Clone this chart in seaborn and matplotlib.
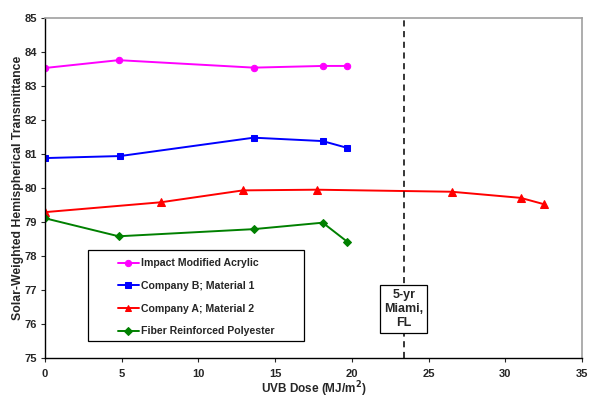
import numpy as np
import pandas as pd
import seaborn as sns
import matplotlib
matplotlib.use('Agg')
import matplotlib.pyplot as plt
from matplotlib.patches import Rectangle

# UVB dose (MJ/m2) and transmittance (%)
acrylic_x = [0, 4.8, 13.6, 18.1, 19.7]
acrylic_y = [83.53, 83.76, 83.54, 83.59, 83.59]

compB_x = [0, 4.9, 13.6, 18.1, 19.7]
compB_y = [80.88, 80.94, 81.48, 81.38, 81.18]

compA_x = [0, 7.55, 12.9, 17.7, 26.5, 31.0, 32.55]
compA_y = [79.29, 79.58, 79.93, 79.95, 79.89, 79.71, 79.52]

frp_x = [0, 4.8, 13.6, 18.1, 19.7]
frp_y = [79.11, 78.58, 78.79, 78.98, 78.42]

labels = ['Impact Modified Acrylic', 'Company B; Material 1',
          'Company A; Material 2', 'Fiber Reinforced Polyester']
colors = ['#FF00FF', '#0000FF', '#FF0000', '#008000']
markers = ['o', 's', '^', 'D']
msizes = [4.6, 4.8, 5.2, 4.0]

miami_dose = 23.38

sns.set_style('white')
plt.rcParams['font.family'] = ['Liberation Sans', 'DejaVu Sans']
plt.rcParams['font.weight'] = 'bold'

series = [(acrylic_x, acrylic_y), (compB_x, compB_y),
          (compA_x, compA_y), (frp_x, frp_y)]
frames = []
for (xs, ys), lab in zip(series, labels):
    frames.append(pd.DataFrame({'dose': xs, 'trans': ys, 'material': lab}))
df = pd.concat(frames, ignore_index=True)

fig = plt.figure(figsize=(5.91, 4.0), dpi=100)
ax = fig.add_axes([45/591, 1-358/400, 537/591, 340/400])

for lab, c, m, ms in zip(labels, colors, markers, msizes):
    sub = df[df['material'] == lab]
    sns.lineplot(data=sub, x='dose', y='trans', ax=ax, color=c, marker=m,
                 markersize=ms, markeredgecolor=c, linewidth=1.4,
                 label=lab, sort=False)

ax.axvline(miami_dose, color='black', linestyle=(0, (4, 3)), linewidth=1.1)
ax.text(miami_dose, 76.44, '5-yr\nMiami,\nFL', ha='center', va='center',
        fontsize=9, fontweight='bold', linespacing=1.2,
        bbox=dict(boxstyle='square,pad=0.3', facecolor='white',
                  edgecolor='black', linewidth=0.9))

ax.set_xlim(0, 35)
ax.set_ylim(75, 85)
ax.set_xticks(np.arange(0, 36, 5))
ax.set_yticks(np.arange(75, 86, 1))
ax.tick_params(axis='both', labelsize=8, length=3, width=0.8, direction='out',
               bottom=True, left=True, pad=3)
ax.tick_params(axis='x', pad=5)
for t in ax.get_xticklabels() + ax.get_yticklabels():
    t.set_fontweight('bold')

ax.set_xlabel('UVB Dose (MJ/m$^\\mathbf{2}$)', fontsize=8.5, fontweight='bold', labelpad=0)
ax.set_ylabel('Solar-Weighted Hemispherical Transmittance', fontsize=8.8,
              fontweight='bold', labelpad=0)

for side in ['top', 'right']:
    ax.spines[side].set_color('#A0A0A0')
    ax.spines[side].set_linewidth(1.2)
for side in ['left', 'bottom']:
    ax.spines[side].set_color('black')
    ax.spines[side].set_linewidth(1.0)

# legend frame drawn as a box, entries centered inside it
box = (0.0801, 0.05, 0.4022, 0.2676)
ax.add_patch(Rectangle(box[:2], box[2], box[3], transform=ax.transAxes,
                       facecolor='white', edgecolor='black', linewidth=0.9,
                       zorder=4))
leg = ax.legend(loc='center', bbox_to_anchor=(box[0], box[1] - 0.005, box[2], box[3]),
                borderaxespad=0, frameon=False, labelspacing=1.2,
                handlelength=2.0, handletextpad=0.15, borderpad=0.2,
                prop={'weight': 'bold', 'size': 7.6})
leg.set_zorder(5)
for h in leg.legend_handles:
    h.set_markersize(4.5)

fig.savefig('out.png', dpi=100)
